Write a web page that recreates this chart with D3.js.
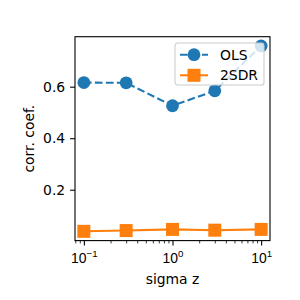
<!DOCTYPE html>
<html>
<head>
<meta charset="utf-8">
<script src="https://cdn.jsdelivr.net/npm/d3@7"></script>
<style>
  body { margin: 0; background: #fff; }
  svg { font-family: "DejaVu Sans", sans-serif; }
</style>
</head>
<body>
<svg width="300" height="300"></svg>
<script>
// sigma z values and the two correlation series
var sigmaZ = [0.1, 0.3, 1, 3, 10];
var olsCorr = [0.616, 0.615, 0.526, 0.584, 0.758];
var sdrCorr = [0.0385, 0.0415, 0.046, 0.043, 0.046];
var seriesNames = ["OLS", "2SDR"];
var xMajorTicks = [0.1, 1, 10];
var xTickExp = ["\u22121", "0", "1"];
var yTicks = [0.2, 0.4, 0.6];

var margin = {left: 75, right: 30, top: 36.7, bottom: 59.4};
var width = 300 - margin.left - margin.right;
var height = 300 - margin.top - margin.bottom;

var svg = d3.select("svg");
var g = svg.append("g")
  .attr("transform", "translate(" + margin.left + "," + margin.top + ")");

// matplotlib style 5% margins (in log space for x)
var lx = d3.extent(sigmaZ, d => Math.log10(d));
var padX = (lx[1] - lx[0]) * 0.05;
var x = d3.scaleLog()
  .domain([Math.pow(10, lx[0] - padX), Math.pow(10, lx[1] + padX)])
  .range([0, width]);

var allY = olsCorr.concat(sdrCorr);
var ly = d3.extent(allY);
var padY = (ly[1] - ly[0]) * 0.05;
var y = d3.scaleLinear()
  .domain([ly[0] - padY, ly[1] + padY])
  .range([height, 0]);

// minor ticks
var minorTicks = [];
[0.01, 0.1, 1, 10].forEach(function (dec) {
  for (var k = 2; k <= 9; k++) {
    var v = dec * k;
    if (v >= x.domain()[0] && v <= x.domain()[1]) minorTicks.push(v);
  }
});

var xMinor = g.append("g")
  .attr("transform", "translate(0," + height + ")")
  .call(d3.axisBottom(x).tickValues(minorTicks).tickFormat("").tickSize(2.8));
xMinor.select(".domain").remove();
xMinor.selectAll("line").attr("stroke-width", 0.8);

var xAxis = g.append("g")
  .attr("transform", "translate(0," + height + ")")
  .call(d3.axisBottom(x).tickValues(xMajorTicks).tickFormat("").tickSize(4.9));
xAxis.select(".domain").remove();
xAxis.selectAll("line").attr("stroke-width", 1.1);
xAxis.selectAll(".tick").each(function (d, i) {
  var t = d3.select(this).append("text")
    .attr("fill", "#000")
    .attr("y", 22.7)
    .attr("text-anchor", "middle")
    .style("font-size", "13.9px");
  t.append("tspan").text("10");
  t.append("tspan")
    .attr("dy", -6)
    .style("font-size", "9.7px")
    .text(xTickExp[i]);
});

var yAxis = g.append("g")
  .call(d3.axisLeft(y).tickValues(yTicks).tickFormat(d3.format(".1f")).tickSize(4.9).tickPadding(4.9));
yAxis.select(".domain").remove();
yAxis.selectAll("line").attr("stroke-width", 1.1);
yAxis.selectAll("text")
  .attr("fill", "#000")
  .style("font-size", "13.9px")
  .style("font-family", "DejaVu Sans");

// frame
g.append("rect")
  .attr("width", width)
  .attr("height", height)
  .attr("fill", "none")
  .attr("stroke", "#000")
  .attr("stroke-width", 1.1);

var colors = ["#1f77b4", "#ff7f0e"];
var line = d3.line()
  .x((d, i) => x(sigmaZ[i]))
  .y(d => y(d));

var plot = g.append("g");

plot.append("path")
  .datum(olsCorr)
  .attr("d", line)
  .attr("fill", "none")
  .attr("stroke", colors[0])
  .attr("stroke-width", 2.08)
  .attr("stroke-dasharray", "7.7,3.3");

plot.selectAll("circle.ols")
  .data(olsCorr)
  .enter().append("circle")
  .attr("class", "ols")
  .attr("cx", (d, i) => x(sigmaZ[i]))
  .attr("cy", d => y(d))
  .attr("r", 6.4)
  .attr("fill", colors[0]);

plot.append("path")
  .datum(sdrCorr)
  .attr("d", line)
  .attr("fill", "none")
  .attr("stroke", colors[1])
  .attr("stroke-width", 2.08);

plot.selectAll("rect.sdr")
  .data(sdrCorr)
  .enter().append("rect")
  .attr("class", "sdr")
  .attr("x", (d, i) => x(sigmaZ[i]) - 6.5)
  .attr("y", d => y(d) - 6.5)
  .attr("width", 13)
  .attr("height", 13)
  .attr("fill", colors[1]);

// legend
var legend = g.append("g")
  .attr("transform", "translate(" + (175 - margin.left) + "," + (43 - margin.top) + ")");
legend.append("rect")
  .attr("width", 89)
  .attr("height", 42)
  .attr("rx", 2.8)
  .attr("fill", "#fff")
  .attr("fill-opacity", 0.8)
  .attr("stroke", "#ccc")
  .attr("stroke-width", 1.1);

seriesNames.forEach(function (name, i) {
  var row = legend.append("g")
    .attr("transform", "translate(0," + (11.7 + i * 20.6) + ")");
  row.append("line")
    .attr("x1", 5).attr("x2", 33)
    .attr("stroke", colors[i])
    .attr("stroke-width", 2.08)
    .attr("stroke-dasharray", i === 0 ? "7.7,3.3" : null);
  if (i === 0) {
    row.append("circle").attr("cx", 19).attr("r", 6.4).attr("fill", colors[i]);
  } else {
    row.append("rect").attr("x", 12.5).attr("y", -6.5)
      .attr("width", 13).attr("height", 13).attr("fill", colors[i]);
  }
  row.append("text")
    .attr("x", 45)
    .attr("y", 5)
    .style("font-size", "13.9px")
    .text(name);
});

// axis labels
svg.append("text")
  .attr("x", margin.left + width / 2)
  .attr("y", 284)
  .attr("text-anchor", "middle")
  .style("font-size", "13.9px")
  .text("sigma z");

svg.append("text")
  .attr("transform", "translate(34," + (margin.top + height / 2) + ") rotate(-90)")
  .attr("text-anchor", "middle")
  .style("font-size", "13.9px")
  .text("corr. coef.");
</script>
</body>
</html>
